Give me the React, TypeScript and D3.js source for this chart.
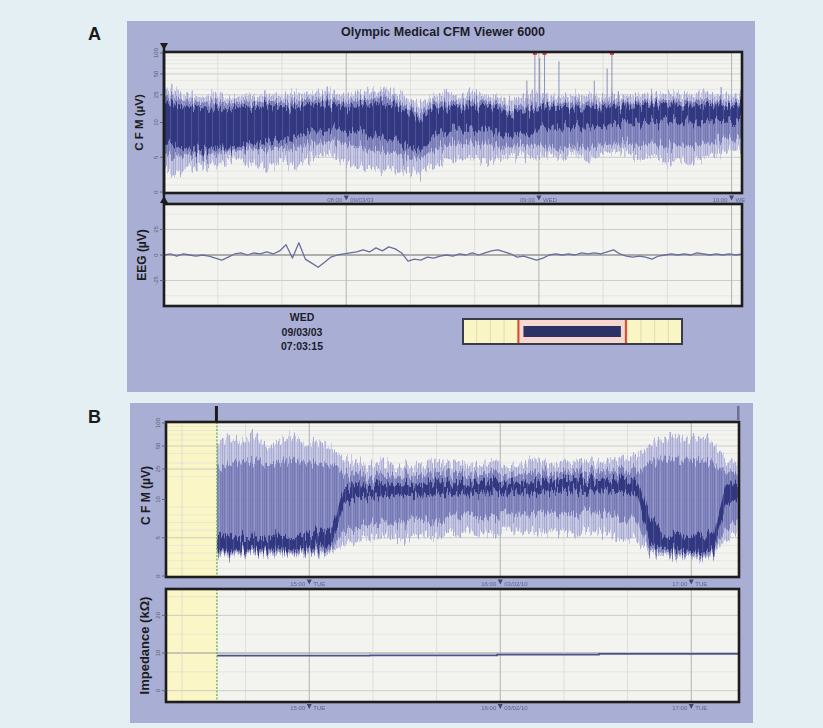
import * as d3 from 'd3'
import React from 'react'

const W = 823
const H = 728
const FONT = "'Liberation Sans', Arial, Helvetica, sans-serif"

// ---------- panel A : 3 h CFM page, Wed 09/03/03 ----------
const aStart = new Date(2003, 8, 3, 7, 3, 15)
const aMinutes = d3.range(0, 181, 4)
const aOuterHi = [32,28,25,23,26,22,25,23,27,24,25,26,28,27,25,26,28,29,27,22,19,24,26,23,27,25,23,21,24,26,24,23,25,24,23,25,24,26,25,27,26,25,27,26,25,24]
const aBandHi = [24,22,20,19,20,18.5,20,19,21,19.5,20,21,22,21,20,21,22,23,21,16,14.5,19,20,19,21,20,18.5,16,18,19,19,18.5,19.5,19.5,19,20,19.5,20.5,20,21,20.5,20,21,20.5,20,19.5]
const aCoreHi = [19,18,16,15.5,16,15,17,16,17.5,16.5,17,17.5,18.5,18,17,17.5,19,19,18,13.5,12,16,17,16.5,17.5,17,16,13.5,15,16,16.5,16,16.5,17,16.5,17.5,17,18,18,18.5,18,17.5,18,17.5,18,17.5]
const aCoreLo = [7.2,6.4,6.2,6,6.4,6.2,6.6,7,7.2,7.4,7.8,8.2,9,9.2,8.6,8.8,8.2,8,7.6,6.4,6,8,8.8,9.2,9,8.8,8.4,8,8.4,9,9.4,9,9.4,9.2,9.6,9.8,10,9.8,10.2,10,10.2,10,10.2,10.4,10.6,10.4]
const aBandLo = [5.5,5,5.4,5.2,5.6,5.8,6,6.2,6,6.4,6.2,6.6,7.2,7.4,6.8,6.6,6,5.8,5.6,5,4.6,6,6.6,7,7,6.8,6.6,6.4,6.8,6.8,6.4,6.2,6.6,6.2,6.8,7,7,6.6,7,6.4,6.8,6.6,7,7.2,7.6,7.4]
const aOuterLo = [3,2.4,3.6,3.8,4.2,4.6,4.6,4.2,3.2,4.8,3.6,4.6,5,5.4,4.4,3.8,3.4,3,3.6,3,2.5,3.6,4.4,4.6,5,4.4,4.8,5.2,5.4,4.8,5.4,4.8,5.6,4.6,5.2,5.8,5.6,4.8,5.2,4.2,4.6,4,5,5.4,6,6.2]
const aSpikeMin = [113, 115.5, 117, 118.5, 123, 134, 138, 139.5, 141.5]
const aSpikeUv = [40, 100, 85, 100, 76, 40, 60, 100, 28]
const aHourTags = ['09/03/03', 'WED', 'WED']

const eegMinutes = d3.range(0, 181, 2)
const eegUv = [0,1,-1,1,0,-1,0,-1,-3,-5, -2,1,2,0,2,1,3,1,4,10, -3,12,-4,-8,-12,-7,-2,0,1,2, 3,5,3,7,4,8,6,2,-6,-4, -5,-2,-3,-1,0,-1,1,0,2,0, 2,4,5,3,1,-2,-1,-3,-5,-3, 0,1,0,1,0,2,1,2,1,3, 5,1,-1,-2,-1,-2,-4,-1,0,1, 0,1,0,2,1,0,1,0,1,0, 1]

const cursorTag = ['WED', '09/03/03', '07:03:15']
const overviewHours = [0, 16]
const overviewWindow = [4.05, 11.9]

// ---------- panel B : Tue 03/02/10 ----------
const bStart = new Date(2010, 2, 2, 14, 15, 0)
const bRecordStartMin = 16
const bMinutes = d3.range(16, 181, 4)
const bOuterHi = [50,62,55,66,48,58,64,52,60,45, 34,30,28,31,26,29,27,32,28,30,27,29,31,28,30,33,29,31,30,32,30,33,35,38, 52,62,68,60,64,55, 32,28]
const bBandHi = [28,32,30,34,28,31,33,29,30,27, 22,21,20,21,19.5,21,20,22,21,21.5,20.5,21,22,21,22,22.5,21.5,22,22,23,22.5,23,24,25, 30,33,35,32,34,30, 22,21]
const bCoreHi = [5.2,5.4,5,5.2,5,5.4,5.2,5.4,5.6,6, 15,15.5,15,16,15.5,16,15.5,16.5,16,16.5,16,16.5,17,16.5,17,17.5,17,17.5,17.5,18,17.5,18,18.5,18, 8,5.6,5.2,5.4,5,5.6, 16,15.5]
const bCoreLo = [3.4,3.2,3.4,3.6,3.4,3.5,3.3,3.6,3.6,4, 9.5,10.5,10.8,11,11.2,11.5,11.2,11.6,11.4,11.8,11.6,12,12.2,12,12.4,12.2,12.4,12.6,12.4,12.6,12.8,12.6,12.4,11.6, 4.2,3.6,3.4,3.2,3,3.4, 9.5,10]
const bBandLo = [3,2.9,3.1,3.2,3,3.1,2.9,3.2,3.1,3.4, 6,6.4,6.8,7,6.6,7.2,7.4,7,7.6,7.8,8,7.6,8,8.2,7.8,8,8.4,8.2,8,8.4,8.2,8,7.6,7, 3.4,3,2.8,2.7,2.6,2.9, 6.5,7]
const bOuterLo = [2.8,2.6,2.8,2.9,2.7,2.8,2.7,2.9,2.8,3, 4.2,4.6,5,5.2,4.6,5,5.4,5,5.6,5.2,5.8,5.4,5.6,6,5.4,5.6,6,5.8,5.4,5.8,5.6,5.2,5,4.6, 3,2.6,2.5,2.4,2.3,2.6, 5,5.4]
const bHourTags = ['TUE', '03/02/10', 'TUE']
const impMinutes = [16, 64, 104, 136, 180]
const impKohm = [9.3, 9.4, 9.6, 9.8, 9.8]

const cfmTicks = [0, 5, 10, 25, 50, 100]
const cfmMinor = [1, 2, 3, 4, 6, 7, 8, 9, 20, 30, 40, 60, 70, 80, 90]
const eegTicks = [-25, 0, 25]
const eegMinor = [-40, 40]
const impTicks = [0, 10, 20]
const impMinor = [5, 15, 25]

type Frame = { x0: number; x1: number; y0: number; y1: number }
const fA1: Frame = { x0: 164, x1: 742, y0: 52, y1: 193 }
const fA2: Frame = { x0: 164, x1: 742, y0: 204, y1: 306 }
const fB1: Frame = { x0: 166, x1: 739, y0: 422, y1: 577 }
const fB2: Frame = { x0: 166, x1: 739, y0: 589, y1: 702 }

const atMin = (start: Date, m: number) => new Date(start.getTime() + m * 60000)

function cfmScale(f: Frame) {
  const mid = (f.y0 + f.y1) / 2
  const lin = d3.scaleLinear().domain([0, 10]).range([f.y1 - 1, mid])
  const log = d3.scaleLog().domain([10, 100]).range([mid, f.y0 + 1]).clamp(true)
  return (v: number) => (v <= 10 ? lin(v) : log(v))
}

function Box({ f, id, children }: { f: Frame; id: string; children?: any }) {
  return (
    <g>
      <clipPath id={id}>
        <rect x={f.x0} y={f.y0} width={f.x1 - f.x0} height={f.y1 - f.y0} />
      </clipPath>
      <rect x={f.x0} y={f.y0} width={f.x1 - f.x0} height={f.y1 - f.y0} fill="#f3f3ef" />
      <g clipPath={`url(#${id})`}>{children}</g>
      <rect x={f.x0} y={f.y0} width={f.x1 - f.x0} height={f.y1 - f.y0} fill="none" stroke="#1d1d1d" strokeWidth={2.6} />
    </g>
  )
}

function timeGrid(x: any, f: Frame) {
  return x.ticks(d3.timeMinute.every(20)).map((t: Date, i: number) => {
    const hour = t.getMinutes() === 0
    return <line key={'v' + i} x1={x(t)} x2={x(t)} y1={f.y0} y2={f.y1} stroke={hour ? '#b3b3b3' : '#d6d6d6'} strokeWidth={hour ? 1 : 0.7} />
  })
}

function hGrid(y: (v: number) => number, f: Frame, major: number[], minor: number[], zero: number, x0 = f.x0) {
  return (
    <g>
      {minor.map(v => <line key={'m' + v} x1={x0} x2={f.x1} y1={y(v)} y2={y(v)} stroke="#dedede" strokeWidth={0.6} />)}
      {major.map(v => (
        <line key={'M' + v} x1={x0} x2={f.x1} y1={y(v)} y2={y(v)} stroke={v === zero ? '#959595' : '#c2c2c2'} strokeWidth={v === zero ? 1.1 : 0.8} />
      ))}
    </g>
  )
}

function yLabels(y: (v: number) => number, f: Frame, ticks: number[]) {
  return ticks.map(v => (
    <g key={'t' + v}>
      <line x1={f.x0 - 4} x2={f.x0} y1={y(v)} y2={y(v)} stroke="#555" strokeWidth={0.8} />
      <text transform={`translate(${f.x0 - 6},${y(v)}) rotate(-90)`} textAnchor="middle" fontSize={6} fill="#5b5e72">{v}</text>
    </g>
  ))
}

function hourTags(x: any, y: number, tags: string[]) {
  const fmt = d3.timeFormat('%H:%M')
  return x.ticks(d3.timeHour.every(1)).map((t: Date, i: number) => {
    const px = x(t)
    return (
      <g key={'h' + i} fill="#4f5586" fontSize={6} opacity={0.85}>
        <text x={px - 4} y={y} textAnchor="end">{fmt(t)}</text>
        <path d={`M${px - 2.5},${y - 6}L${px + 2.5},${y - 6}L${px},${y - 1}Z`} fill="#30345c" />
        <text x={px + 4} y={y}>{tags[i]}</text>
      </g>
    )
  })
}

function CfmTrace(p: { x: any; y: (v: number) => number; start: Date; minutes: number[]; oHi: number[]; bHi: number[]; cHi: number[]; cLo: number[]; bLo: number[]; oLo: number[] }) {
  const area = (lo: number[], hi: number[]) =>
    d3.area<number>()
      .x(m => p.x(atMin(p.start, m)))
      .y0((_, i) => p.y(lo[i]))
      .y1((_, i) => p.y(hi[i]))(p.minutes) as string
  return (
    <g filter="url(#hair)">
      <path d={area(p.oLo, p.oHi)} fill="#babce1" opacity={0.8} />
      <path d={area(p.bLo, p.bHi)} fill="#7479b8" opacity={0.8} />
      <path d={area(p.cLo, p.cHi)} fill="#272d78" opacity={0.85} />
      <path d={area(p.oLo, p.oHi)} fill="url(#stripes)" />
    </g>
  )
}

export default function App() {
  const xA = d3.scaleTime().domain([aStart, atMin(aStart, 180)]).range([fA1.x0, fA1.x1])
  const xB = d3.scaleTime().domain([bStart, atMin(bStart, 180)]).range([fB1.x0, fB1.x1])
  const yA1 = cfmScale(fA1)
  const yB1 = cfmScale(fB1)
  const yA2 = d3.scaleLinear().domain([-50, 50]).range([fA2.y1, fA2.y0])
  const yB2 = d3.scaleLinear().domain([-3, 27]).range([fB2.y1, fB2.y0])

  const eegPath = d3.line<number>()
    .x(m => xA(atMin(aStart, m)))
    .y((_, i) => yA2(eegUv[i]))(eegMinutes) as string
  const impPath = d3.line<number>()
    .curve(d3.curveStepAfter)
    .x(m => xB(atMin(bStart, m)))
    .y((_, i) => yB2(impKohm[i]))(impMinutes) as string

  const recX = xB(atMin(bStart, bRecordStartMin))
  const ov = d3.scaleLinear().domain(overviewHours).range([463, 682])
  const midA2 = (fA2.y0 + fA2.y1) / 2

  return (
    <svg width={W} height={H} style={{ position: 'absolute', left: 0, top: 0 }} fontFamily={FONT}>
      <defs>
        <filter id="hair" x="0" y="-30%" width="100%" height="160%">
          <feTurbulence type="fractalNoise" baseFrequency="0.45 0.02" numOctaves={3} seed={11} result="noise" />
          <feColorMatrix in="noise" type="matrix" values="0 0 0 0 0.5  0 1 0 0 0  0 0 0 0 0  0 0 0 0 1" result="dy" />
          <feDisplacementMap in="SourceGraphic" in2="dy" scale={24} xChannelSelector="R" yChannelSelector="G" />
        </filter>
        <pattern id="stripes" width={7} height={9} patternUnits="userSpaceOnUse">
          <line x1={0.5} x2={0.5} y1={0} y2={9} stroke="#20256b" strokeWidth={0.6} opacity={0.3} />
          <line x1={2.5} x2={2.5} y1={0} y2={9} stroke="#ffffff" strokeWidth={0.6} opacity={0.2} />
          <line x1={3.5} x2={3.5} y1={0} y2={9} stroke="#20256b" strokeWidth={0.5} opacity={0.2} />
          <line x1={5.5} x2={5.5} y1={0} y2={9} stroke="#20256b" strokeWidth={0.7} opacity={0.25} />
        </pattern>
        <clipPath id="clipA">
          <rect x={127} y={21} width={618} height={371} />
        </clipPath>
      </defs>

      <rect width={W} height={H} fill="#e3eff2" />

      {/* ---------------- A ---------------- */}
      <text x={88} y={40} fontSize={18} fontWeight="bold" fill="#1a1a1a">A</text>
      <rect x={127} y={21} width={628} height={371} fill="#a8aed4" />
      <text x={443} y={36} textAnchor="middle" fontSize={12.5} fontWeight="bold" fill="#1c1c2a">Olympic Medical CFM Viewer 6000</text>

      <Box f={fA1} id="cA1">
        {hGrid(yA1, fA1, [5, 25, 50], cfmMinor, 10)}
        {timeGrid(xA, fA1)}
        {hGrid(yA1, fA1, [10], [], 10)}
        <CfmTrace x={xA} y={yA1} start={aStart} minutes={aMinutes} oHi={aOuterHi} bHi={aBandHi} cHi={aCoreHi} cLo={aCoreLo} bLo={aBandLo} oLo={aOuterLo} />
        {aSpikeMin.map((m, i) => (
          <g key={'s' + i}>
            <line x1={xA(atMin(aStart, m))} x2={xA(atMin(aStart, m))} y1={yA1(17)} y2={yA1(aSpikeUv[i])} stroke="#8185b6" strokeWidth={0.9} />
            {aSpikeUv[i] >= 100 && <rect x={xA(atMin(aStart, m)) - 2} y={fA1.y0 + 1} width={4} height={2} fill="#d8483c" />}
          </g>
        ))}
      </Box>
      {yLabels(yA1, fA1, cfmTicks)}
      <g clipPath="url(#clipA)">{hourTags(xA, fA1.y1 + 8.5, aHourTags)}</g>

      <Box f={fA2} id="cA2">
        {hGrid(yA2, fA2, eegTicks, eegMinor, 0)}
        {timeGrid(xA, fA2)}
        {hGrid(yA2, fA2, [0], [], 0)}
        <path d={eegPath} fill="none" stroke="#6a6e9e" strokeWidth={1.3} strokeLinejoin="round" />
      </Box>
      {yLabels(yA2, fA2, eegTicks)}

      {/* cursor */}
      <line x1={fA1.x0} x2={fA1.x0} y1={45} y2={fA2.y0} stroke="#1d1d1d" strokeWidth={2.4} />
      <path d={`M${fA1.x0 - 4},${43}L${fA1.x0 + 4},${43}L${fA1.x0},${50}Z`} fill="#1d1d1d" />
      <path d={`M${fA1.x0 - 4},${203}L${fA1.x0 + 4},${203}L${fA1.x0},${196}Z`} fill="#1d1d1d" />

      <text transform={`translate(143,${(fA1.y0 + fA1.y1) / 2}) rotate(-90)`} textAnchor="middle" fontSize={11.5} fontWeight="bold" fill="#1c1c1c">C F M (µV)</text>
      <text transform={`translate(146,${midA2}) rotate(-90)`} textAnchor="middle" fontSize={12} fontWeight="bold" fill="#1c1c1c">EEG (µV)</text>

      {cursorTag.map((s, i) => (
        <text key={s} x={302} y={321 + i * 14.5} textAnchor="middle" fontSize={10.5} fontWeight="bold" fill="#1c1c2a">{s}</text>
      ))}

      {/* overview strip */}
      <rect x={ov(overviewHours[0])} y={319} width={ov(overviewHours[1]) - ov(overviewHours[0])} height={25} fill="#faf5c4" />
      {ov.ticks(16).map(t => <line key={'o' + t} x1={ov(t)} x2={ov(t)} y1={320} y2={343} stroke="#dcd5a8" strokeWidth={0.8} />)}
      <rect x={ov(overviewWindow[0])} y={319} width={ov(overviewWindow[1]) - ov(overviewWindow[0])} height={25} fill="#f6d8cf" />
      <rect x={ov(overviewWindow[0]) + 5} y={326} width={ov(overviewWindow[1]) - ov(overviewWindow[0]) - 10} height={11} fill="#2c3266" />
      {overviewWindow.map(w => <line key={'w' + w} x1={ov(w)} x2={ov(w)} y1={319} y2={344} stroke="#e0462c" strokeWidth={2} />)}
      <rect x={ov(overviewHours[0])} y={319} width={ov(overviewHours[1]) - ov(overviewHours[0])} height={25} fill="none" stroke="#3a3c4a" strokeWidth={2} />

      {/* ---------------- B ---------------- */}
      <text x={88} y={423} fontSize={18} fontWeight="bold" fill="#1a1a1a">B</text>
      <rect x={130} y={403} width={623} height={320} fill="#a8aed4" />

      <Box f={fB1} id="cB1">
        <rect x={fB1.x0} y={fB1.y0} width={recX - fB1.x0} height={fB1.y1 - fB1.y0} fill="#fbf6c6" />
        {hGrid(yB1, fB1, [5, 25, 50], cfmMinor, 10)}
        {timeGrid(xB, fB1)}
        {hGrid(yB1, fB1, [10], [], 10, recX)}
        <CfmTrace x={xB} y={yB1} start={bStart} minutes={bMinutes} oHi={bOuterHi} bHi={bBandHi} cHi={bCoreHi} cLo={bCoreLo} bLo={bBandLo} oLo={bOuterLo} />
        <line x1={recX} x2={recX} y1={fB1.y0} y2={fB1.y1} stroke="#6fb85a" strokeWidth={1.4} strokeDasharray="2 1.5" />
      </Box>
      {yLabels(yB1, fB1, cfmTicks)}
      {hourTags(xB, fB1.y1 + 8.5, bHourTags)}

      <Box f={fB2} id="cB2">
        <rect x={fB2.x0} y={fB2.y0} width={recX - fB2.x0} height={fB2.y1 - fB2.y0} fill="#fbf6c6" />
        {hGrid(yB2, fB2, impTicks, impMinor, 10)}
        {timeGrid(xB, fB2)}
        <path d={impPath} fill="none" stroke="#4d5290" strokeWidth={1.7} />
        <line x1={recX} x2={recX} y1={fB2.y0} y2={fB2.y1} stroke="#6fb85a" strokeWidth={1.4} strokeDasharray="2 1.5" />
      </Box>
      {yLabels(yB2, fB2, impTicks)}
      {hourTags(xB, fB2.y1 + 8, bHourTags)}

      <rect x={recX - 2} y={406} width={3} height={15} fill="#1d1d1d" />
      <rect x={fB1.x1 - 2} y={406} width={2.5} height={14} fill="#6d7090" />

      <text transform={`translate(150,${(fB1.y0 + fB1.y1) / 2 - 4}) rotate(-90)`} textAnchor="middle" fontSize={12} fontWeight="bold" fill="#1c1c1c">C F M (µV)</text>
      <text transform={`translate(149,${(fB2.y0 + fB2.y1) / 2}) rotate(-90)`} textAnchor="middle" fontSize={13} fontWeight="bold" fill="#1c1c1c">Impedance (kΩ)</text>
    </svg>
  )
}
